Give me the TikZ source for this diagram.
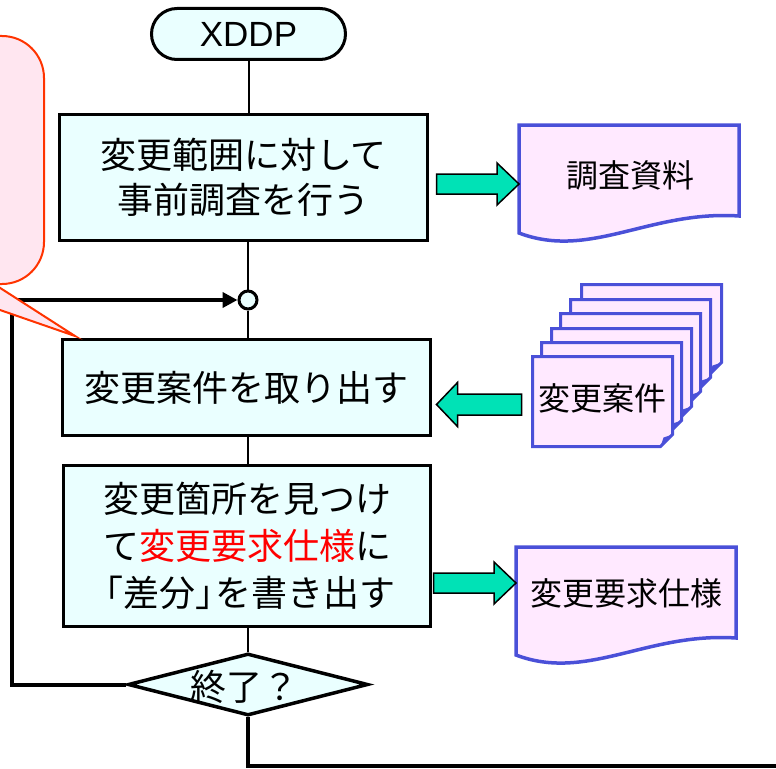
\documentclass[tikz,border=0pt]{standalone}
\usepackage{fontspec}
\setmainfont{Liberation Sans}
\newfontfamily\jp{Noto Sans CJK JP}
\usetikzlibrary{calc,shapes.geometric,arrows.meta}
\definecolor{boxfill}{HTML}{EAFFFF}
\definecolor{docfill}{HTML}{FFE9FF}
\definecolor{docblue}{HTML}{4A50D8}
\definecolor{callfill}{HTML}{FFE6F0}
\definecolor{callred}{HTML}{FF3300}
\definecolor{arrowgreen}{HTML}{00E2B6}
\definecolor{hlred}{HTML}{FF0000}
\tikzset{
  proc/.style={draw=black, line width=3pt, fill=boxfill, inner sep=0pt, outer sep=0pt, align=center},
  flow/.style={line width=2pt},
  loopline/.style={line width=4pt, line join=miter},
  docrect/.style={minimum width=220pt, minimum height=91pt, inner sep=0pt, outer sep=0pt},
  docline/.style={draw=docblue, fill=docfill, line width=3.5pt, line join=miter},
  doctext/.style={font=\jp\fontsize{32}{38}\selectfont, inner sep=0pt},
  pagebox/.style={minimum width=140pt, minimum height=90pt, inner sep=0pt, outer sep=0pt},
  pageline/.style={draw=docblue, fill=docfill, line width=3pt, line join=miter},
  blockarrow/.style={fill=arrowgreen, draw=black, line width=1.5pt, line join=miter},
  callout/.style={draw=callred, fill=callfill, line width=2pt},
}
\newcommand\myrarrow[2]{\filldraw[blockarrow] ($(#1)+(0,-10)$) -- ($(#2)+(-22,-10)$) -- ($(#2)+(-22,-21)$) -- (#2) -- ($(#2)+(-22,21)$) -- ($(#2)+(-22,10)$) -- ($(#1)+(0,10)$) -- cycle;}
\newcommand\mylarrow[2]{\filldraw[blockarrow] ($(#1)+(0,-10.5)$) -- ($(#2)+(21,-10.5)$) -- ($(#2)+(21,-22)$) -- (#2) -- ($(#2)+(21,22)$) -- ($(#2)+(21,10.5)$) -- ($(#1)+(0,10.5)$) -- cycle;}
\newcommand\docpage[3]{%
  \node[pagebox] (#1) at (#2+71.5,#3+46.5) {};
  \path[pageline] (#1.north west) -- (#1.north east) -- ($(#1.south east)+(0,-12)$) -- ($(#1.south east)+(-12,0)$) -- (#1.south west) -- cycle;
  \fill[docblue] ($(#1.south east)+(0,-12)$) -- ($(#1.south east)+(-12,0)$) -- ($(#1.south east)+(-9,-9)$) -- cycle;
}
\begin{document}
\begin{tikzpicture}[x=1pt,y=-1pt]
\useasboundingbox (0,0) rectangle (776,768);
\clip (0,0) rectangle (776,768);
\fill[white] (0,0) rectangle (776,768);

% flowchart nodes
\node[proc, rounded corners=25.5pt, minimum width=194pt, minimum height=51pt, font=\fontsize{35}{38}\selectfont] (start) at (248.5,34) {XDDP};
\node[proc, minimum width=368pt, minimum height=126pt, font=\jp\fontsize{36}{45}\selectfont] (b1) at (243.5,177.5) {変更範囲に対して\\事前調査を行う};
\node[circle, draw=black, line width=3pt, fill=boxfill, minimum size=18pt, inner sep=0pt] (j) at (248,300) {};
\node[proc, minimum width=368pt, minimum height=96pt, font=\jp\fontsize{36}{45}\selectfont] (b2) at (246.5,387.5) {変更案件を取り出す};
\node[proc, minimum width=367pt, minimum height=161pt, font=\jp\fontsize{36}{47}\selectfont] (b3) at (247,546) {変更箇所を見つけ\\て\textcolor{hlred}{変更要求仕様}に\\\kern-0.3em「差分」\kern-0.45em を書き出す};
\node[diamond, draw=black, line width=3.5pt, line join=miter, fill=boxfill, aspect=3.87, minimum width=240pt, minimum height=62pt, inner sep=0pt] (end) at (248,684.5) {};
\node[font=\jp\fontsize{36}{40}\selectfont, inner sep=0pt] (endt) at ($(end.center)+(-4,2)$) {終了？};

% flow connectors
\draw[flow] (start.south) -- (start.south |- b1.north);
\draw[flow] (b1.south -| j) -- (j.north);
\draw[flow] (j.south) -- (b2.north -| j);
\draw[flow] (b2.south -| j) -- (b3.north -| j);
\draw[flow] (b3.south -| j) -- (end.north);
\coordinate (lc) at (12,684.5);
\draw[loopline,-{Triangle[length=15pt,width=15pt]}] (end.west) -- (lc) |- (j.west);
\coordinate (ex) at (790,766);
\draw[line width=3.5pt, line join=miter] (end.south) |- (ex);

% callout (partly outside the picture)
\draw[callout, rounded corners=42pt] (-200,36) rectangle (44,284);
\coordinate (tip) at (75,336);
\fill[callfill] (-75,284) -- (tip) -- (-6,284) -- cycle;
\draw[callred, line width=2pt, line join=miter] (-75,284) -- (tip) -- (-6,284);

% document 1
\node[docrect] (d1) at (629,170.5) {};
\path[docline] (d1.north west) -- (d1.north east) -- (d1.south east) .. controls +(-89,-6) and +(71,27) .. ($(d1.south west)+(0,17)$) -- cycle;
\node[doctext] (d1t) at ($(d1.center)+(1,4.5)$) {調査資料};

% document 2
\node[docrect] (d2) at (626,592.5) {};
\path[docline] (d2.north west) -- (d2.north east) -- (d2.south east) .. controls +(-89,-6) and +(71,27) .. ($(d2.south west)+(0,17)$) -- cycle;
\node[doctext] (d2t) at ($(d2.center)+(0,0.5)$) {変更要求仕様};

% stack of change items
\docpage{p1}{580}{283}
\docpage{p2}{569}{298}
\docpage{p3}{559}{312}
\docpage{p4}{550}{327}
\docpage{p5}{540}{341}
\docpage{p6}{531}{355}
\node[doctext] (p6t) at ($(p6.center)+(0,-3.5)$) {変更案件};

% block arrows
\coordinate (a1s) at ($(b1.east)+(9,6.5)$);
\coordinate (a1e) at (d1.west |- a1s);
\myrarrow{a1s}{a1e}
\coordinate (a2s) at ($(p6.west)+(-11,3)$);
\coordinate (a2e) at ($(b2.east)+(6,17)$);
\mylarrow{a2s}{a2e}
\coordinate (a3s) at ($(b3.east)+(3,37)$);
\coordinate (a3e) at (d2.west |- a3s);
\myrarrow{a3s}{a3e}
\end{tikzpicture}
\end{document}
